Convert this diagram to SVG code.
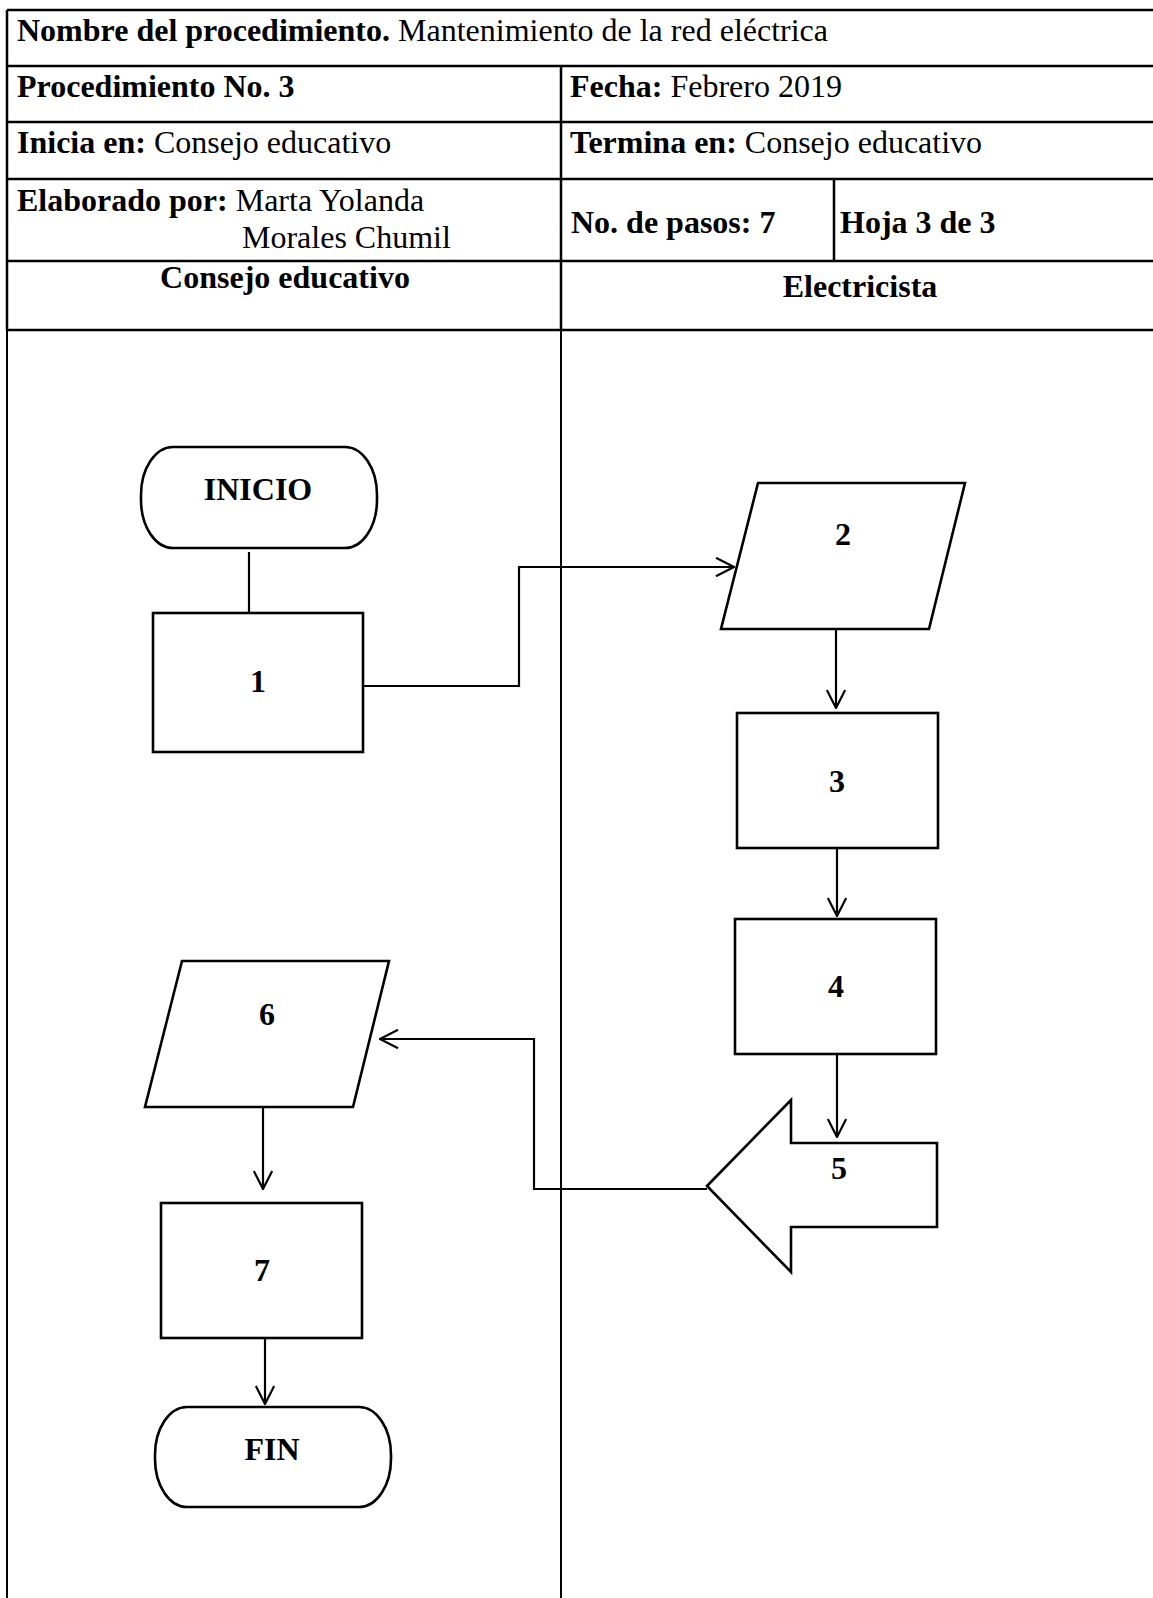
<svg xmlns="http://www.w3.org/2000/svg" width="1153" height="1598" viewBox="0 0 1153 1598">
<style>
text{font-family:"Liberation Serif","Times New Roman",serif;font-size:32px;fill:#000}
.b{font-weight:bold}
.c{text-anchor:middle}
.tl{stroke:#000;stroke-width:2.5;fill:none}
.lane{stroke:#000;stroke-width:2;fill:none}
.shape{fill:#fff;stroke:#000;stroke-width:2.6}
.conn{stroke:#000;stroke-width:2.2;fill:none}
</style>
<defs>
<marker id="arr" viewBox="0 0 20 20" refX="19" refY="10" markerWidth="20" markerHeight="20" markerUnits="userSpaceOnUse" orient="auto">
<path d="M1,0.8 L19,10 L1,19.2" fill="none" stroke="#000" stroke-width="2.2"/>
</marker>
</defs>
<rect width="1153" height="1598" fill="#fff"/>
<g id="table">
<path class="tl" d="M7,10 H1153 M7,66 H1153 M7,122 H1153 M7,179 H1153 M7,261 H1153 M7,330 H1153 M7,10 V330 M561,66 V330 M834,179 V261"/>
<path class="lane" d="M7,330 V1598 M561,330 V1598"/>
<text x="17" y="41"><tspan class="b">Nombre del procedimiento.</tspan> Mantenimiento de la red eléctrica</text>
<text x="17" y="97" class="b">Procedimiento No. 3</text>
<text x="570" y="97"><tspan class="b">Fecha:</tspan> Febrero 2019</text>
<text x="17" y="153"><tspan class="b">Inicia en:</tspan> Consejo educativo</text>
<text x="570" y="153"><tspan class="b">Termina en:</tspan> Consejo educativo</text>
<text x="17" y="211"><tspan class="b">Elaborado por:</tspan> Marta Yolanda</text>
<text x="242" y="248">Morales Chumil</text>
<text x="571" y="233" class="b">No. de pasos: 7</text>
<text x="840" y="233" class="b">Hoja 3 de 3</text>
<text x="285" y="288" class="b c">Consejo educativo</text>
<text x="860" y="297" class="b c">Electricista</text>
</g>
<g id="connectors">
<path class="conn" d="M249,552 V613"/>
<path class="conn" d="M363,686 H519 V567 H734" marker-end="url(#arr)"/>
<path class="conn" d="M836,629 V708" marker-end="url(#arr)"/>
<path class="conn" d="M837,848 V916" marker-end="url(#arr)"/>
<path class="conn" d="M837,1054 V1137" marker-end="url(#arr)"/>
<path class="conn" d="M707,1189 H534 V1039 H380" marker-end="url(#arr)"/>
<path class="conn" d="M263,1107 V1189" marker-end="url(#arr)"/>
<path class="conn" d="M265,1338 V1404" marker-end="url(#arr)"/>
</g>
<g id="inicio">
<rect class="shape" x="141" y="447" width="236" height="101" rx="32" ry="48"/>
<text x="258" y="500" class="b c">INICIO</text>
</g>
<g id="n1">
<rect class="shape" x="153" y="613" width="210" height="139"/>
<text x="258" y="692" class="b c">1</text>
</g>
<g id="n2">
<polygon class="shape" points="758,483 965,483 929,629 721,629"/>
<text x="843" y="545" class="b c">2</text>
</g>
<g id="n3">
<rect class="shape" x="737" y="713" width="201" height="135"/>
<text x="837" y="792" class="b c">3</text>
</g>
<g id="n4">
<rect class="shape" x="735" y="919" width="201" height="135"/>
<text x="836" y="997" class="b c">4</text>
</g>
<g id="n5">
<polygon class="shape" points="707,1186 791,1100 791,1143 937,1143 937,1227 791,1227 791,1272"/>
<text x="839" y="1179" class="b c">5</text>
</g>
<g id="n6">
<polygon class="shape" points="182,961 389,961 353,1107 145,1107"/>
<text x="267" y="1025" class="b c">6</text>
</g>
<g id="n7">
<rect class="shape" x="161" y="1203" width="201" height="135"/>
<text x="262" y="1281" class="b c">7</text>
</g>
<g id="fin">
<rect class="shape" x="155" y="1407" width="236" height="100" rx="32" ry="48"/>
<text x="272" y="1460" class="b c">FIN</text>
</g>
</svg>
